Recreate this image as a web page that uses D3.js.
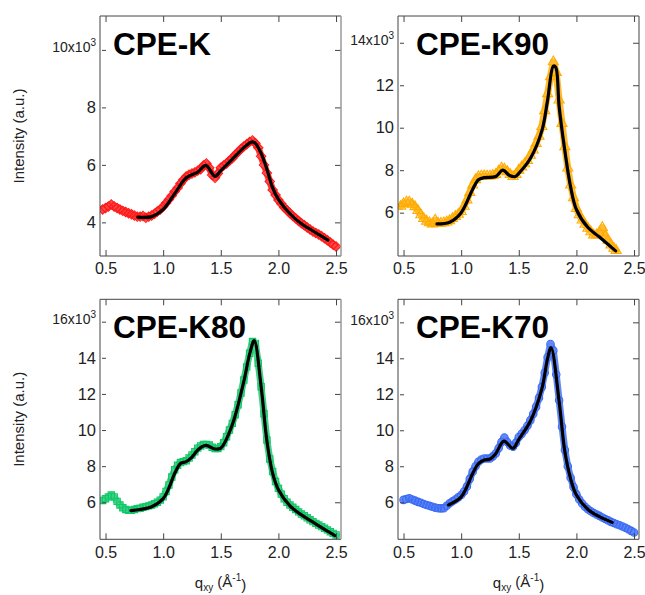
<!DOCTYPE html>
<html><head><meta charset="utf-8">
<script src="https://cdn.jsdelivr.net/npm/d3@7"></script>
<style>
body{margin:0;background:#fff}
text{font-family:"Liberation Sans",Arial,sans-serif}
</style>
</head><body>
<svg id="chart" width="645" height="595"></svg>
<script>
// ---- data (intensity in units of 10^3) ----
const titles = ["CPE-K", "CPE-K90", "CPE-K80", "CPE-K70"];
const xTicks = [0.5, 1.0, 1.5, 2.0, 2.5];
const yTicksK = [4, 6, 8, 10];
const yTicksK90 = [6, 8, 10, 12, 14];
const yTicksK80 = [6, 8, 10, 12, 14, 16];
const yTicksK70 = [6, 8, 10, 12, 14, 16];

const dataK = [[0.475,4.45],[0.5,4.5],[0.525,4.55],[0.55,4.62],[0.575,4.55],[0.6,4.5],[0.625,4.45],[0.65,4.4],[0.675,4.36],[0.7,4.32],[0.725,4.28],[0.75,4.24],[0.775,4.2],[0.8,4.2],[0.825,4.22],[0.85,4.16],[0.875,4.2],[0.9,4.24],[0.925,4.3],[0.95,4.38],[0.975,4.45],[1.0,4.55],[1.025,4.67],[1.05,4.8],[1.075,4.93],[1.1,5.07],[1.125,5.2],[1.15,5.35],[1.175,5.48],[1.2,5.6],[1.225,5.66],[1.25,5.7],[1.275,5.74],[1.3,5.8],[1.325,5.85],[1.35,5.98],[1.375,6.05],[1.4,5.9],[1.425,5.65],[1.45,5.55],[1.475,5.7],[1.5,5.9],[1.525,5.98],[1.55,6.05],[1.575,6.15],[1.6,6.23],[1.625,6.35],[1.65,6.45],[1.675,6.55],[1.7,6.64],[1.725,6.72],[1.75,6.8],[1.775,6.85],[1.8,6.75],[1.825,6.6],[1.85,6.3],[1.875,6.0],[1.9,5.72],[1.925,5.42],[1.95,5.13],[1.975,4.95],[2.0,4.78],[2.025,4.65],[2.05,4.52],[2.075,4.42],[2.1,4.32],[2.125,4.22],[2.15,4.14],[2.175,4.05],[2.2,3.97],[2.225,3.9],[2.25,3.82],[2.275,3.75],[2.3,3.68],[2.325,3.63],[2.35,3.58],[2.375,3.52],[2.4,3.45],[2.425,3.38],[2.45,3.3],[2.475,3.22],[2.5,3.16]];
const fitK = [[0.78,4.18],[0.9,4.2],[1.0,4.45],[1.1,5.0],[1.2,5.55],[1.3,5.75],[1.37,5.98],[1.45,5.6],[1.5,5.8],[1.6,6.2],[1.7,6.6],[1.77,6.8],[1.8,6.75],[1.85,6.4],[1.9,5.85],[1.95,5.2],[2.0,4.8],[2.1,4.3],[2.2,3.95],[2.3,3.7],[2.43,3.38]];

const dataK90 = [[0.475,6.3],[0.5,6.42],[0.525,6.5],[0.55,6.5],[0.575,6.4],[0.6,6.28],[0.625,6.1],[0.65,5.9],[0.675,5.72],[0.7,5.6],[0.725,5.52],[0.75,5.47],[0.775,5.65],[0.8,5.5],[0.825,5.5],[0.85,5.52],[0.875,5.56],[0.9,5.62],[0.925,5.72],[0.95,5.82],[0.975,5.92],[1.0,6.05],[1.025,6.3],[1.05,6.6],[1.075,6.95],[1.1,7.3],[1.125,7.55],[1.15,7.7],[1.175,7.72],[1.2,7.73],[1.225,7.72],[1.25,7.72],[1.275,7.75],[1.3,7.8],[1.325,7.95],[1.35,8.1],[1.375,8.05],[1.4,7.93],[1.425,7.8],[1.45,7.7],[1.475,7.8],[1.5,8.0],[1.525,8.15],[1.55,8.3],[1.575,8.45],[1.6,8.7],[1.625,8.95],[1.65,9.26],[1.675,9.6],[1.7,10.05],[1.725,10.8],[1.75,11.6],[1.775,12.4],[1.8,13.1],[1.825,12.6],[1.85,11.3],[1.875,10.2],[1.9,9.1],[1.925,8.1],[1.95,7.3],[1.975,6.7],[2.0,6.2],[2.025,5.9],[2.05,5.65],[2.075,5.45],[2.1,5.26],[2.125,5.1],[2.15,4.95],[2.175,4.95],[2.2,5.05],[2.225,5.3],[2.25,4.9],[2.275,4.7],[2.3,4.48],[2.325,4.32],[2.345,4.22]];
const fitK90 = [[0.79,5.47],[0.9,5.55],[1.0,6.0],[1.1,7.1],[1.15,7.55],[1.2,7.65],[1.3,7.7],[1.36,8.0],[1.42,7.75],[1.47,7.7],[1.5,7.85],[1.6,8.55],[1.7,9.85],[1.75,11.3],[1.8,12.9],[1.82,12.85],[1.85,11.0],[1.9,8.9],[1.95,7.2],[2.0,6.15],[2.1,5.3],[2.2,4.85],[2.34,4.2]];

const dataK80 = [[0.475,6.1],[0.5,6.2],[0.525,6.3],[0.55,6.4],[0.575,6.3],[0.6,6.05],[0.625,5.85],[0.65,5.7],[0.675,5.6],[0.7,5.55],[0.725,5.55],[0.75,5.6],[0.775,5.65],[0.8,5.67],[0.825,5.72],[0.85,5.76],[0.875,5.8],[0.9,5.85],[0.925,5.92],[0.95,6.0],[0.975,6.12],[1.0,6.3],[1.025,6.6],[1.05,6.96],[1.075,7.4],[1.1,7.8],[1.125,8.05],[1.15,8.2],[1.175,8.25],[1.2,8.3],[1.225,8.45],[1.25,8.62],[1.275,8.8],[1.3,9.0],[1.325,9.12],[1.35,9.2],[1.375,9.2],[1.4,9.17],[1.425,9.05],[1.45,8.98],[1.475,8.98],[1.5,9.08],[1.525,9.3],[1.55,9.63],[1.575,10.0],[1.6,10.37],[1.625,10.85],[1.65,11.4],[1.675,12.05],[1.7,12.77],[1.725,13.5],[1.75,14.25],[1.775,14.9],[1.8,14.8],[1.825,13.7],[1.85,12.4],[1.875,10.9],[1.9,9.45],[1.925,8.4],[1.95,7.7],[1.975,7.15],[2.0,6.77],[2.025,6.45],[2.05,6.2],[2.075,6.0],[2.1,5.85],[2.125,5.72],[2.15,5.6],[2.175,5.47],[2.2,5.35],[2.225,5.25],[2.25,5.14],[2.275,5.03],[2.3,4.93],[2.325,4.83],[2.35,4.74],[2.375,4.65],[2.4,4.56],[2.425,4.47],[2.45,4.37],[2.475,4.28],[2.5,4.19]];
const fitK80 = [[0.72,5.54],[0.8,5.6],[0.9,5.75],[1.0,6.2],[1.05,6.8],[1.1,7.6],[1.15,8.15],[1.2,8.25],[1.25,8.5],[1.3,8.9],[1.37,9.15],[1.45,8.95],[1.5,9.0],[1.6,10.3],[1.7,12.7],[1.75,14.2],[1.79,14.95],[1.85,12.4],[1.9,9.4],[1.95,7.6],[2.0,6.7],[2.1,5.8],[2.2,5.3],[2.3,4.9],[2.4,4.5],[2.49,4.16]];

const dataK70 = [[0.5,6.13],[0.525,6.18],[0.55,6.22],[0.575,6.15],[0.6,6.09],[0.625,6.02],[0.65,5.97],[0.675,5.9],[0.7,5.85],[0.725,5.8],[0.75,5.75],[0.775,5.7],[0.8,5.67],[0.825,5.66],[0.85,5.67],[0.875,5.8],[0.9,5.94],[0.925,6.05],[0.95,6.15],[0.975,6.27],[1.0,6.4],[1.025,6.6],[1.05,6.87],[1.075,7.3],[1.1,7.7],[1.125,8.0],[1.15,8.25],[1.175,8.38],[1.2,8.43],[1.225,8.43],[1.25,8.43],[1.275,8.55],[1.3,8.71],[1.325,9.0],[1.35,9.35],[1.375,9.6],[1.4,9.35],[1.425,9.15],[1.45,9.08],[1.475,9.3],[1.5,9.63],[1.525,9.8],[1.55,10.0],[1.575,10.25],[1.6,10.55],[1.625,10.9],[1.65,11.3],[1.675,11.8],[1.7,12.4],[1.725,13.2],[1.75,14.06],[1.775,14.8],[1.8,14.43],[1.825,13.1],[1.85,11.67],[1.875,10.2],[1.9,8.9],[1.925,8.0],[1.95,7.36],[1.975,6.85],[2.0,6.44],[2.025,6.15],[2.05,5.93],[2.075,5.75],[2.1,5.61],[2.125,5.5],[2.15,5.4],[2.175,5.32],[2.2,5.24],[2.225,5.15],[2.25,5.07],[2.275,4.99],[2.3,4.91],[2.325,4.85],[2.35,4.78],[2.375,4.72],[2.4,4.65],[2.425,4.58],[2.45,4.5],[2.475,4.41],[2.5,4.32]];
const fitK70 = [[0.89,5.85],[1.0,6.3],[1.1,7.6],[1.15,8.15],[1.2,8.35],[1.25,8.4],[1.3,8.7],[1.37,9.4],[1.45,9.0],[1.5,9.5],[1.6,10.5],[1.7,12.3],[1.75,14.0],[1.78,14.6],[1.85,11.6],[1.9,8.8],[1.95,7.3],[2.0,6.4],[2.1,5.6],[2.2,5.2],[2.31,4.88]];

const colors = ["#ff1a1a", "#ffab00", "#10c868", "#3a6af5"];

// ---- layout ----
const svg = d3.select("#chart");
const W = 241, H = 240;
const panels = [
  {title: titles[0], data: dataK,   fit: fitK,   color: colors[0], sym: "diamond",  yDom: [2.83, 11.18], yTicks: yTicksK,   x0: 100, y0: 16,    yTitle: true,  xTitle: false},
  {title: titles[1], data: dataK90, fit: fitK90, color: colors[1], sym: "triangle", yDom: [3.96, 15.26], yTicks: yTicksK90, x0: 398, y0: 16,    yTitle: false, xTitle: false},
  {title: titles[2], data: dataK80, fit: fitK80, color: colors[2], sym: "square",   yDom: [3.95, 17.24], yTicks: yTicksK80, x0: 100, y0: 299.3, yTitle: true,  xTitle: true},
  {title: titles[3], data: dataK70, fit: fitK70, color: colors[3], sym: "circle",   yDom: [3.94, 17.28], yTicks: yTicksK70, x0: 398, y0: 299.3, yTitle: false, xTitle: true}
];

const symGen = {
  diamond: d3.symbol().type(d3.symbolSquare).size(44),
  triangle: d3.symbol().type(d3.symbolTriangle).size(44),
  square: d3.symbol().type(d3.symbolSquare).size(40),
  circle: d3.symbol().type(d3.symbolCircle).size(44)
};

panels.forEach(p => {
  const g = svg.append("g").attr("transform", `translate(${p.x0},${p.y0})`);
  const x = d3.scaleLinear().domain([0.452, 2.543]).range([0, W]);
  const y = d3.scaleLinear().domain(p.yDom).range([H, 0]);

  const clip = "clip" + p.title.replace(/[^A-Za-z0-9]/g, "");
  g.append("clipPath").attr("id", clip).append("rect").attr("width", W).attr("height", H);

  const plot = g.append("g").attr("clip-path", `url(#${clip})`);

  // data band
  const line = d3.line().x(d => x(d[0])).y(d => y(d[1]));
  plot.append("path").datum(p.data).attr("d", line)
    .attr("fill", "none").attr("stroke", p.color).attr("stroke-width", 7)
    .attr("stroke-linejoin", "round").attr("stroke-linecap", "round").attr("opacity", 0.8);

  plot.selectAll("path.m").data(p.data).join("path").attr("class", "m")
    .attr("d", symGen[p.sym]())
    .attr("transform", d => `translate(${x(d[0])},${y(d[1])})` + (p.sym === "diamond" ? " rotate(45)" : ""))
    .attr("fill", "none").attr("stroke", p.color).attr("stroke-width", 1.1);

  // fit
  const fitLine = d3.line().curve(d3.curveCatmullRom.alpha(0.5)).x(d => x(d[0])).y(d => y(d[1]));
  plot.append("path").datum(p.fit).attr("d", fitLine)
    .attr("fill", "none").attr("stroke", "#000").attr("stroke-width", 3.2).attr("stroke-linecap", "round");

  // axes
  const ax = g.append("g").attr("transform", `translate(0,${H})`)
    .call(d3.axisBottom(x).tickValues(xTicks).tickFormat(d3.format(".1f")).tickSize(-6).tickPadding(7));
  const axT = g.append("g").call(d3.axisTop(x).tickValues(xTicks).tickFormat("").tickSize(-6));
  const ay = g.append("g")
    .call(d3.axisLeft(y).tickValues(p.yTicks).tickSize(-6).tickPadding(4));
  const ayR = g.append("g").attr("transform", `translate(${W},0)`)
    .call(d3.axisRight(y).tickValues(p.yTicks).tickFormat("").tickSize(-6));

  [ax, axT, ay, ayR].forEach(a => {
    a.select(".domain").remove();
    a.selectAll("line").attr("stroke", "#444");
    a.selectAll("text").attr("fill", "#222").style("font-size", "16px").style("font-family", "'Liberation Sans', Arial, sans-serif");
  });
  ay.selectAll(".tick line").attr("x1", 2);
  ay.selectAll("text").style("font-size", "16.5px");

  // top label with x10^3
  const maxT = d3.max(p.yTicks);
  ay.selectAll(".tick").filter(d => d === maxT).select("text")
    .text(null).attr("dy", "0.12em").style("font-size", "14px")
    .call(t => {
      t.append("tspan").text(maxT + "x10");
      t.append("tspan").text("3").style("font-size", "10px").attr("dy", "-0.6em");
    });

  // frame
  g.append("line").attr("x1", 0).attr("x2", 0).attr("y1", 0).attr("y2", H).attr("stroke", "#444");
  g.append("line").attr("x1", 0).attr("x2", W).attr("y1", H).attr("y2", H).attr("stroke", "#444");
  g.append("line").attr("x1", 0).attr("x2", W).attr("y1", 0).attr("y2", 0).attr("stroke", "#444");
  g.append("line").attr("x1", W).attr("x2", W).attr("y1", 0).attr("y2", H)
    .attr("stroke", p.x0 < 300 ? "#999" : "#444").attr("stroke-width", p.x0 < 300 ? 1.5 : 1);

  // title
  g.append("text").attr("x", p.x0 < 300 ? 13 : 18).attr("y", 39)
    .text(p.title).attr("fill", "#000")
    .style("font-size", "31.5px").style("font-weight", "bold");

  if (p.yTitle) {
    g.append("text").attr("transform", `translate(-76,${H / 2}) rotate(-90)`)
      .attr("text-anchor", "middle").attr("fill", "#222").style("font-size", "15px")
      .text("Intensity (a.u.)");
  }
  if (p.xTitle) {
    const t = g.append("text").attr("x", W / 2).attr("y", 289).attr("text-anchor", "middle")
      .attr("fill", "#222").style("font-size", "15px");
    t.append("tspan").text("q");
    t.append("tspan").text("xy").style("font-size", "10px").attr("dy", "0.3em");
    t.append("tspan").text(" (Å").attr("dy", "-0.3em");
    t.append("tspan").text("-1").style("font-size", "10px").attr("dy", "-0.6em");
    t.append("tspan").text(")").attr("dy", "0.6em");
  }
});
</script>
</body></html>
